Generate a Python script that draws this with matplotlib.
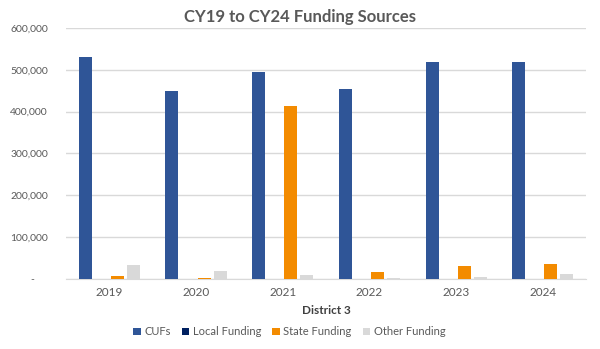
import matplotlib.pyplot as plt
import numpy as np
from matplotlib.ticker import FuncFormatter

years = ['2019', '2020', '2021', '2022', '2023', '2024']
cufs = [530000, 450000, 495000, 454000, 518000, 518000]
local_funding = [0, 0, 0, 0, 0, 0]
state_funding = [8000, 3000, 414000, 17500, 32000, 36000]
other_funding = [34000, 19000, 10000, 3000, 5500, 12700]

series = [
    ('CUFs', cufs, '#2F5597'),
    ('Local Funding', local_funding, '#002060'),
    ('State Funding', state_funding, '#F38B00'),
    ('Other Funding', other_funding, '#D9D9D9'),
]

plt.rcParams['font.family'] = ['Lato', 'DejaVu Sans']
grey = '#595959'

fig = plt.figure(figsize=(6, 3.49), dpi=100)
ax = fig.add_axes([0.11, 0.2006, 0.867, 0.7192])

x = np.arange(len(years))
step = 0.185
width = 0.15
for i, (name, vals, color) in enumerate(series):
    ax.bar(x + (i - 1.5) * step, vals, width, color=color, label=name, zorder=3)

ax.set_xlim(-0.5, len(years) - 0.5)
ax.set_ylim(0, 600000)
ax.set_yticks(np.arange(0, 600001, 100000))
ax.yaxis.set_major_formatter(FuncFormatter(lambda v, p: '-     ' if v == 0 else f'{int(v):,}'))
ax.set_xticks(x)
ax.set_xticklabels(years)
ax.grid(axis='y', color='#D9D9D9', linewidth=1, zorder=0)
for s in ['top', 'right', 'left']:
    ax.spines[s].set_visible(False)
ax.spines['bottom'].set_color('#D9D9D9')
ax.tick_params(axis='both', length=0, colors=grey)
ax.tick_params(axis='y', pad=13, labelsize=7.5)
ax.tick_params(axis='x', pad=6, labelsize=8.5)

ax.set_xlabel('District 3', fontsize=8.5, fontweight='bold', color='#404040', labelpad=5)
fig.text(0.5, 0.95, 'CY19 to CY24 Funding Sources', ha='center', va='center',
         fontsize=12, fontweight='bold', color=grey)

fig.legend(loc='center', bbox_to_anchor=(0.482, 0.049), ncol=4, frameon=False,
           fontsize=8, labelcolor=grey, handlelength=0.7, handleheight=0.7,
           handletextpad=0.3, columnspacing=1.0)

fig.savefig('out.png', dpi=100)
